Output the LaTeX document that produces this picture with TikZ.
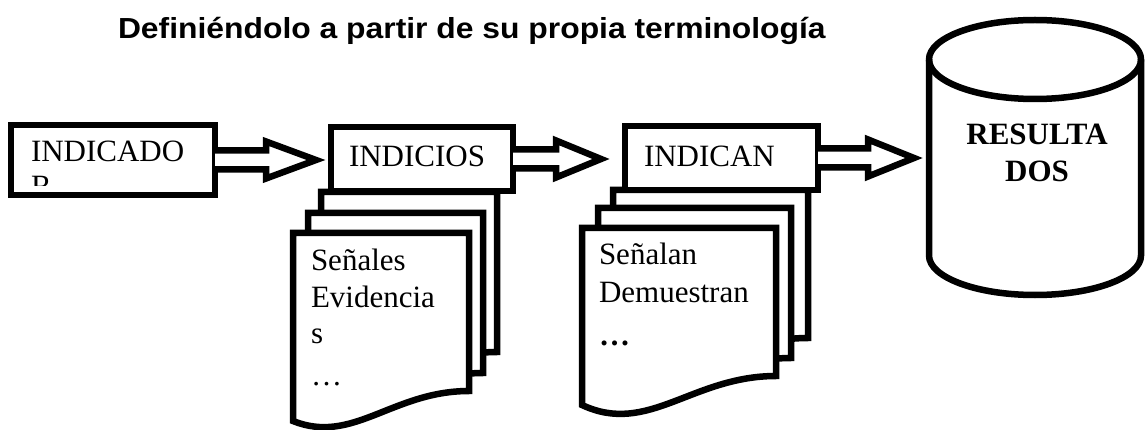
\documentclass[tikz,border=0pt]{standalone}
\usepackage{fontspec}
\usepackage{graphicx}
\setmainfont{Liberation Serif}
\newfontfamily\titlefont{Liberation Sans}
\tikzset{
  bw/.style={draw=black, fill=white, line width=6.5pt, line join=miter},
  boxnode/.style={bw, rectangle, inner sep=0pt, outer sep=0pt},
  txt/.style={inner sep=0pt, outer sep=0pt, anchor=base west, font=\fontsize{31}{37}\selectfont},
  ctxt/.style={inner sep=0pt, outer sep=0pt, anchor=base, font=\fontsize{31}{37}\selectfont\bfseries},
  blockarrow/.style={bw, miter limit=10},
  docshape/.style={bw},
}
% #1 source node, #2 tip coordinate, #3 head base distance
\newcommand{\blkarrow}[3]{%
  \draw[blockarrow] ([shift={(0,-9.5)}]#1.east) -- ([shift={(#3,-9.5)}]#1.east)
    -- ([shift={(#3,-18.5)}]#1.east) -- (#2) -- ([shift={(#3,18.5)}]#1.east)
    -- ([shift={(#3,9.5)}]#1.east) -- ([shift={(0,9.5)}]#1.east);}
\begin{document}
\begin{tikzpicture}[x=1pt,y=-1pt]
\useasboundingbox (0,0) rectangle (1145,430);

% title
\node[inner sep=0pt, outer sep=0pt, anchor=base west] (title) at (118,39)
  {\scalebox{1.098}[1]{\titlefont\bfseries\fontsize{29}{35}\selectfont Definiéndolo a partir de su propia terminología}};

% document stack 1
\draw[docshape] (321,192) -- (497,192) -- (497,352) .. controls (420.5,352) and (381,406) .. (321,382) -- cycle;
\draw[docshape] (308,213) -- (483,213) -- (483,373) .. controls (407,373) and (368,427) .. (308,403) -- cycle;
\draw[docshape] (293,233) -- (469,233) -- (469,391) .. controls (392.4,391) and (352.8,445) .. (293,421) -- cycle;

% document stack 2
\draw[docshape] (613,190) -- (808,190) -- (808,338) .. controls (723.5,338) and (679,398) .. (613,367) -- cycle;
\draw[docshape] (598,208) -- (791,208) -- (791,358) .. controls (708,358) and (664,418) .. (598,387) -- cycle;
\draw[docshape] (582,228) -- (776,228) -- (776,376) .. controls (692,376) and (648,436) .. (582,405) -- cycle;

% boxes
\node[boxnode, minimum width=204pt, minimum height=70pt] (b1) at (113,160) {};
\node[boxnode, minimum width=182pt, minimum height=64pt] (b2) at (422,159) {};
\node[boxnode, minimum width=193pt, minimum height=64pt] (b3) at (721.5,158) {};

% cylinder
\node[inner sep=0pt, outer sep=0pt, minimum width=212pt, minimum height=196pt] (cyl) at (1035,157.5) {};
\draw[bw] (cyl.north west) -- (cyl.south west)
  arc[start angle=180, end angle=360, x radius=106pt, y radius=39.5pt]
  -- (cyl.north east)
  arc[start angle=0, end angle=180, x radius=106pt, y radius=39.5pt] -- cycle;
\draw[bw, fill=none] (cyl.north west)
  arc[start angle=180, end angle=360, x radius=106pt, y radius=39.5pt];

% arrow tips
\path (b2.west) ++(-15,0) coordinate (t1p);
\coordinate (t1) at (t1p |- b1.east);
\path (b3.west) ++(-24,0) coordinate (t2p);
\coordinate (t2) at (t2p |- b2.east);
\path (cyl.west) ++(-15,0) coordinate (t3p);
\coordinate (t3) at (t3p |- b3.east);

\blkarrow{b1}{t1}{51}
\blkarrow{b2}{t2}{43}
\blkarrow{b3}{t3}{50}

% texts
\node[txt] (l1) at (31,162) {INDICADO};
\begin{scope}
  \clip (15,128) rectangle (211,186);
  \node[txt] (l1b) at (31,197) {R};
\end{scope}
\node[txt] (l2) at (349,167) {INDICIOS};
\node[txt] (l3) at (644,167) {INDICAN};

\node[txt] (s1) at (311,270) {Señales};
\node[txt] (s2) at (311,307) {Evidencia};
\node[txt] (s3) at (311,343) {s};
\node[txt] (s4) at (311,385) {…};

\node[txt] (d1) at (599,265) {Señalan};
\node[txt] (d2) at (599,302) {Demuestran};
\node[txt, font=\fontsize{31}{37}\selectfont\bfseries] (d3) at (599,345) {…};

\node[ctxt] (r1) at (1037,145) {RESULTA};
\node[ctxt] (r2) at (1037,182) {DOS};
\end{tikzpicture}
\end{document}
